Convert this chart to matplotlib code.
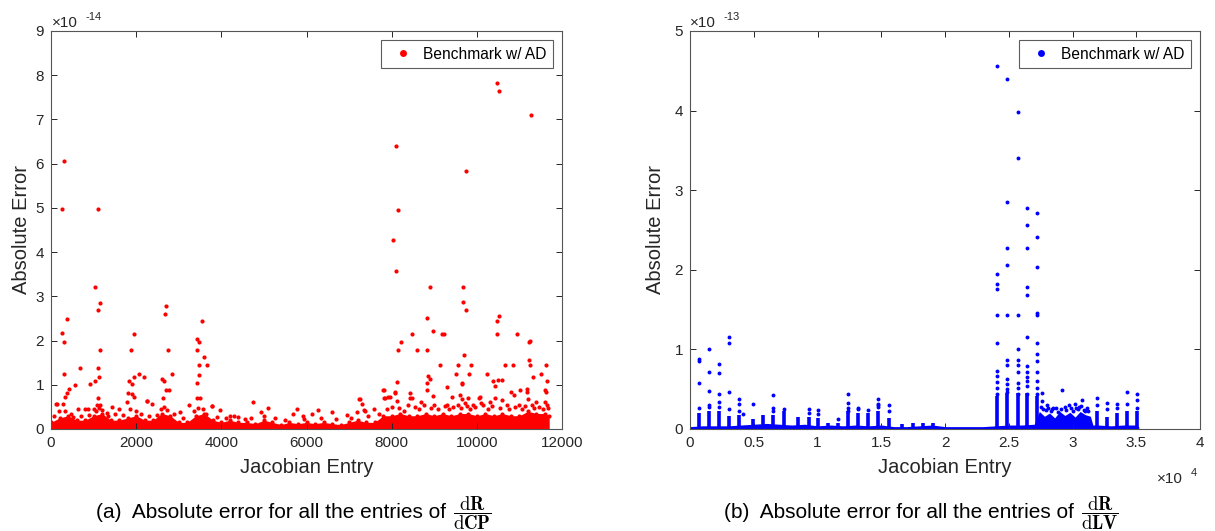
import matplotlib
matplotlib.use("Agg")
import matplotlib.pyplot as plt

plt.rcParams['font.family'] = ['Liberation Sans', 'DejaVu Sans']
plt.rcParams['mathtext.fontset'] = 'cm'

# ==========================================
# Data (y values in units of the axis multiplier)
# ==========================================
# (a) dR/dCP, y in 1e-14
A_BAND_X = [0, 200, 400, 600, 800, 1000, 1200, 1400, 1600, 1800, 2000, 2200, 2400, 2600,
            2800, 3000, 3200, 3400, 3600, 3800, 4000, 4200, 4400, 4600, 4800, 5000, 5200,
            5400, 5600, 5800, 6000, 6200, 6400, 6600, 6800, 7000, 7200, 7400, 7600, 7800,
            8000, 8200, 8400, 8600, 8800, 9000, 9200, 9400, 9600, 9800, 10000, 10200,
            10400, 10600, 10800, 11000, 11200, 11400, 11600, 11700]
A_BAND_TOP = [0.15, 0.25, 0.30, 0.20, 0.20, 0.30, 0.35, 0.20, 0.20, 0.25, 0.30, 0.20, 0.20,
              0.35, 0.30, 0.15, 0.15, 0.30, 0.35, 0.20, 0.15, 0.20, 0.15, 0.15, 0.12, 0.20,
              0.15, 0.10, 0.15, 0.12, 0.15, 0.12, 0.15, 0.12, 0.10, 0.15, 0.20, 0.15, 0.15,
              0.30, 0.30, 0.35, 0.30, 0.30, 0.35, 0.30, 0.35, 0.30, 0.35, 0.35, 0.30, 0.35,
              0.30, 0.35, 0.30, 0.30, 0.40, 0.35, 0.35, 0.30]
A_PTS_X = [251, 313, 1096, 1040, 10465, 10527, 11270, 8093, 9744, 8148, 8030, 8093, 8899, 9682,
           1096, 1158, 376, 251, 313, 313, 1158, 1096, 1127, 1040, 916, 681, 556, 430, 376, 329,
           1096, 110, 1949, 1886, 1949, 1824, 1909, 2074, 2184, 1816, 1909, 1956, 2254,
           2700, 2680, 2740, 2840, 2614, 2660, 2700, 2780, 2630,
           3538, 3421, 3475, 3421, 3592, 3475, 3663, 3475, 3436, 3421, 3500, 3773, 4750, 3968,
           9682, 9737, 8836, 8962, 9181, 9228, 8476, 8218, 8155, 8594, 8829, 9697, 10465, 10512,
           10465, 10950, 11216, 11240, 11231, 11260, 11310, 11513, 11615, 11638, 9141, 9509,
           9564, 9862, 9807, 10230, 10653, 10841, 10386, 10500, 10590, 10420, 8845, 8899, 8131,
           7812, 8070, 7906, 7830, 8820, 8840, 9291, 9658, 9596, 9650, 9721, 9800, 10050, 10418,
           10100, 10801, 10870, 11012, 11177, 11200, 11592, 11615, 11600, 8422, 8480, 7239,
           7302, 7350, 5769, 6276,
           133, 290, 626, 798, 862, 1072, 1150, 1307, 1425, 1597, 1777, 2247, 2364, 3029, 3240,
           3788, 4931, 5088, 5675, 4200, 4400,
           5910, 6121, 6591, 6943, 7193, 7255, 7380, 7584, 7803, 7842, 7960, 8077, 8131, 8430,
           8976, 9427, 9658, 10073, 10300, 10600, 11170, 11400, 11650, 8700, 9000, 9300, 9900,
           11000]
A_PTS_Y = [4.98, 6.05, 4.98, 3.22, 7.83, 7.64, 7.11, 6.40, 5.84, 4.96, 4.28, 3.57, 3.21, 3.21,
           2.69, 2.86, 2.49, 2.16, 1.97, 1.24, 1.79, 1.39, 1.17, 1.09, 1.02, 1.39, 1.00, 0.91,
           0.82, 0.72, 0.71, 0.57, 2.15, 1.79, 1.17, 1.09, 1.02, 1.24, 1.17, 0.82, 0.80, 0.72,
           0.63, 2.78, 2.59, 1.79, 1.24, 1.13, 1.09, 0.88, 0.89, 0.71,
           2.44, 2.04, 1.97, 1.79, 1.62, 1.45, 1.45, 1.21, 1.05, 0.71, 0.70, 0.52, 0.61, 0.42,
           2.87, 2.69, 2.50, 2.22, 2.15, 2.15, 2.15, 1.97, 1.79, 1.79, 1.79, 1.68, 2.44, 2.56,
           2.15, 2.15, 1.97, 1.99, 1.55, 1.45, 1.18, 1.24, 1.45, 1.08, 1.45, 1.24,
           1.45, 1.45, 1.24, 1.24, 1.45, 1.45, 1.09, 1.10, 1.10, 0.97, 1.20, 1.14, 1.06,
           0.89, 0.83, 0.73, 0.71, 1.04, 0.89, 0.94, 1.02, 0.76, 0.67, 0.59, 0.69, 0.71, 0.71,
           0.58, 0.84, 0.77, 0.89, 0.84, 0.67, 0.89, 0.84, 0.62, 0.71, 0.71, 0.68,
           0.56, 0.43, 0.45, 0.42,
           0.56, 0.56, 0.46, 0.46, 0.46, 0.55, 0.55, 0.37, 0.50, 0.46, 0.60, 0.63, 0.56, 0.39, 0.54,
           0.52, 0.39, 0.47, 0.35, 0.30, 0.28,
           0.30, 0.35, 0.39, 0.32, 0.38, 0.67, 0.41, 0.45, 0.88, 0.69, 0.73, 0.82, 0.64, 0.81,
           0.75, 0.73, 1.03, 0.73, 0.60, 0.65, 0.90, 0.60, 0.55, 0.60, 0.55, 0.55, 0.55,
           0.55]
# ragged points just above the dense band
A_RIM_X = [60, 180, 330, 470, 520, 700, 900, 1000, 1060, 1130, 1200, 1350, 1500, 1700, 1850,
           1990, 2120, 2300, 2500, 2580, 2650, 2720, 2900, 3100, 3350, 3450, 3560, 3650, 3900,
           4100, 4300, 4550, 4700, 5000, 5250, 5500, 5950, 6350, 6700, 7050, 7450, 7700,
           7900, 8000, 8180, 8300, 8380, 8550, 8650, 8750, 8930, 9080, 9250, 9350, 9450,
           9550, 9620, 9780, 9850, 9950, 10150, 10270, 10350, 10550, 10700, 10760, 10900,
           11050, 11120, 11290, 11350, 11450, 11550, 11680]
A_RIM_Y = [0.30, 0.40, 0.40, 0.35, 0.28, 0.30, 0.32, 0.45, 0.40, 0.48, 0.42, 0.30, 0.35, 0.32,
           0.45, 0.40, 0.35, 0.30, 0.32, 0.45, 0.50, 0.42, 0.35, 0.25, 0.40, 0.48, 0.45, 0.35,
           0.28, 0.25, 0.30, 0.22, 0.25, 0.30, 0.25, 0.20, 0.22, 0.25, 0.22, 0.25, 0.30, 0.35,
           0.45, 0.50, 0.48, 0.40, 0.55, 0.50, 0.45, 0.55, 0.48, 0.45, 0.52, 0.45, 0.50,
           0.55, 0.48, 0.52, 0.45, 0.50, 0.55, 0.45, 0.52, 0.48, 0.55, 0.45, 0.50,
           0.45, 0.52, 0.55, 0.48, 0.50, 0.45, 0.48]
A_XTICKS = [0, 2000, 4000, 6000, 8000, 10000, 12000]
A_YTICKS = [0, 1, 2, 3, 4, 5, 6, 7, 8, 9]

# (b) dR/dLV, y in 1e-13
B_BAND_X = [0, 1000, 2000, 3000, 4000, 5000, 6000, 7000, 8000, 9000, 10000, 11000, 12000,
            13000, 14000, 15000, 16000, 17000, 18000, 19000, 20000, 21000, 22000, 23000,
            24000, 25000, 26000, 27000, 27400, 27800, 28200, 28600, 29000, 29400, 29800,
            30200, 30600, 31000, 31400, 31600, 32000, 33000, 34000, 35000, 35200]
B_BAND_TOP = [0.03, 0.04, 0.04, 0.04, 0.05, 0.06, 0.07, 0.06, 0.05, 0.06, 0.04, 0.05, 0.04,
              0.05, 0.04, 0.05, 0.03, 0.03, 0.04, 0.05, 0.03, 0.03, 0.03, 0.03, 0.04, 0.05,
              0.05, 0.06, 0.22, 0.16, 0.20, 0.14, 0.22, 0.17, 0.21, 0.15, 0.22, 0.18, 0.16,
              0.05, 0.05, 0.04, 0.05, 0.05, 0.03]
B_COL_X = [706, 1490, 2275, 3059, 3843, 4941, 5725, 6510, 7373, 8471, 9333, 10039, 10824,
           11608, 12392, 13176, 13961, 14745, 15608, 16627, 17490, 18275, 19059,
           24078, 24886, 25700, 26455, 27240, 31950, 32680, 33510, 34300, 35080]
B_COL_TOP = [0.20, 0.22, 0.22, 0.16, 0.17, 0.12, 0.18, 0.17, 0.22, 0.15, 0.15, 0.14, 0.08,
             0.08, 0.22, 0.20, 0.20, 0.22, 0.14, 0.06, 0.07, 0.08, 0.08,
             0.42, 0.45, 0.45, 0.45, 0.42, 0.22, 0.15, 0.20, 0.22, 0.22]
B_PTS_X = [706, 706, 706, 706, 1490, 1490, 1490, 1490, 1490, 2275, 2275, 2275, 2275, 2275,
           3059, 3059, 3059, 3059, 3843, 3843, 3843, 4157, 4941, 6510, 6510, 6510, 7373,
           9333, 9333, 10039, 10039, 11608, 12392, 12392, 12392, 12392, 13176, 13176, 13961,
           14745, 14745, 14745, 14745, 15608, 15608,
           24078, 24078, 24078, 24078, 24078, 24078, 24078, 24078, 24078, 24078, 24078,
           24886, 24886, 24886, 24886, 24886, 24886, 24886, 24886, 24886, 24886, 24886,
           25700, 25700, 25700, 25700, 25700, 25700, 25700, 25700, 25700, 25700,
           26455, 26455, 26455, 26455, 26455, 26455, 26455, 26455, 26455, 26455, 26455, 26455,
           27240, 27240, 27240, 27240, 27240, 27240, 27240, 27240, 27240, 27240, 27240, 27240,
           27600, 27600, 28000, 28500, 29200, 29700, 30200, 30770, 30500, 31000,
           27500, 27700, 27900, 28100, 28300, 28400, 28700, 28900, 29100, 29400, 29500, 29900,
           30000, 30300, 30400, 30650, 30900, 31100, 31250,
           31950, 31950, 32680, 32680, 33510, 33510, 34300, 34300, 35080, 35080, 35080]
B_PTS_Y = [0.88, 0.86, 0.58, 0.27, 1.01, 0.71, 0.48, 0.30, 0.28, 0.82, 0.70, 0.44, 0.34, 0.28,
           1.15, 1.08, 0.46, 0.25, 0.38, 0.32, 0.23, 0.19, 0.31, 0.43, 0.26, 0.22, 0.25,
           0.25, 0.20, 0.24, 0.19, 0.12, 0.44, 0.33, 0.27, 0.23, 0.27, 0.25, 0.24,
           0.38, 0.32, 0.30, 0.28, 0.30, 0.23,
           4.56, 1.95, 1.82, 1.76, 1.43, 1.08, 0.73, 0.66, 0.59, 0.52, 0.44,
           4.40, 2.85, 2.28, 2.06, 1.43, 0.87, 0.80, 0.63, 0.56, 0.50, 0.47,
           3.98, 3.41, 1.43, 1.01, 0.87, 0.80, 0.72, 0.58, 0.51, 0.44,
           2.78, 2.56, 2.28, 1.79, 1.68, 1.15, 0.79, 0.72, 0.65, 0.60, 0.54, 0.44,
           2.71, 2.41, 2.03, 1.46, 1.43, 1.08, 0.94, 0.85, 0.72, 0.60, 0.52, 0.44,
           0.45, 0.35, 0.30, 0.26, 0.49, 0.30, 0.32, 0.37, 0.28, 0.22,
           0.28, 0.25, 0.24, 0.27, 0.22, 0.25, 0.26, 0.21, 0.25, 0.28, 0.24, 0.26,
           0.22, 0.26, 0.25, 0.29, 0.24, 0.27, 0.23,
           0.39, 0.30, 0.33, 0.25, 0.31, 0.27, 0.47, 0.31, 0.44, 0.36, 0.27]
B_XTICKS = [0, 5000, 10000, 15000, 20000, 25000, 30000, 35000, 40000]
B_XTICK_LABELS = ['0', '0.5', '1', '1.5', '2', '2.5', '3', '3.5', '4']
B_YTICKS = [0, 1, 2, 3, 4, 5]

AXIS_COLOR = '#262626'
W, H = 1215, 531


def style_axes(ax):
    for s in ax.spines.values():
        s.set_color('#555555')
        s.set_linewidth(0.8)
    ax.tick_params(direction='in', top=True, right=True, length=4, width=0.7,
                   colors=AXIS_COLOR, labelsize=11, pad=5)


def add_legend(ax):
    leg = ax.legend(loc='upper right', fontsize=11.2, frameon=True, fancybox=False,
                    handletextpad=0.3, borderpad=0.4, borderaxespad=0.6, handlelength=2.0)
    leg.get_frame().set_edgecolor('#333333')
    leg.get_frame().set_linewidth(0.8)


def add_caption(x_right, label, frac):
    fig.text(x_right / W, 1 - 518 / H, label + '  Absolute error for all the entries of',
             fontsize=15, ha='right', va='baseline', color='black')
    fig.text((x_right + 7) / W, 1 - 518 / H, frac,
             fontsize=13.5, ha='left', va='baseline', color='black')


fig = plt.figure(figsize=(W / 100, H / 100), dpi=100)

# ---------- (a) ----------
ax1 = fig.add_axes([51 / W, 1 - 429 / H, 511 / W, 398 / H])
ax1.fill_between(A_BAND_X, 0, A_BAND_TOP, color='red', linewidth=0)
ax1.plot(A_BAND_X, A_BAND_TOP, 'o', color='red', ms=3.0, mec='none')
ax1.plot(A_RIM_X, A_RIM_Y, 'o', color='red', ms=3.0, mec='none')
ax1.plot(A_PTS_X, A_PTS_Y, 'o', color='red', ms=3.0, mec='none')
ax1.plot([], [], 'o', color='red', ms=5, mec='none', label='Benchmark w/ AD')
ax1.set_xlim(0, 12000)
ax1.set_ylim(0, 9)
ax1.set_xticks(A_XTICKS)
ax1.set_yticks(A_YTICKS)
style_axes(ax1)
ax1.set_xlabel('Jacobian Entry', fontsize=14.5, color=AXIS_COLOR, labelpad=6)
ax1.set_ylabel('Absolute Error', fontsize=14.5, color=AXIS_COLOR, labelpad=3)
add_legend(ax1)

# ---------- (b) ----------
ax2 = fig.add_axes([690 / W, 1 - 429 / H, 510 / W, 398 / H])
ax2.fill_between(B_BAND_X, 0, B_BAND_TOP, color='blue', linewidth=0)
ax2.vlines(B_COL_X, 0, B_COL_TOP, color='blue', linewidth=2.6)
ax2.plot(B_PTS_X, B_PTS_Y, 'o', color='blue', ms=2.8, mec='none')
ax2.plot([], [], 'o', color='blue', ms=5, mec='none', label='Benchmark w/ AD')
ax2.set_xlim(0, 40000)
ax2.set_ylim(0, 5)
ax2.set_xticks(B_XTICKS)
ax2.set_xticklabels(B_XTICK_LABELS)
ax2.set_yticks(B_YTICKS)
style_axes(ax2)
ax2.set_xlabel('Jacobian Entry', fontsize=14.5, color=AXIS_COLOR, labelpad=6)
ax2.set_ylabel('Absolute Error', fontsize=14.5, color=AXIS_COLOR, labelpad=7)
add_legend(ax2)

# axis multipliers
fig.text(52 / W, 1 - 27 / H, '\u00d710', fontsize=11, color=AXIS_COLOR, va='baseline')
fig.text(86 / W, 1 - 20 / H, '-14', fontsize=8, color=AXIS_COLOR, va='baseline')
fig.text(690 / W, 1 - 27 / H, '\u00d710', fontsize=11, color=AXIS_COLOR, va='baseline')
fig.text(724 / W, 1 - 20 / H, '-13', fontsize=8, color=AXIS_COLOR, va='baseline')
fig.text(1157 / W, 1 - 483 / H, '\u00d710', fontsize=11, color=AXIS_COLOR, va='baseline')
fig.text(1191 / W, 1 - 476 / H, '4', fontsize=8, color=AXIS_COLOR, va='baseline')

# captions
add_caption(446, '(a)', r'$\dfrac{\mathrm{d}\mathbf{R}}{\mathrm{d}\mathbf{CP}}$')
add_caption(1074, '(b)', r'$\dfrac{\mathrm{d}\mathbf{R}}{\mathrm{d}\mathbf{LV}}$')

fig.savefig('out.png', dpi=100)
